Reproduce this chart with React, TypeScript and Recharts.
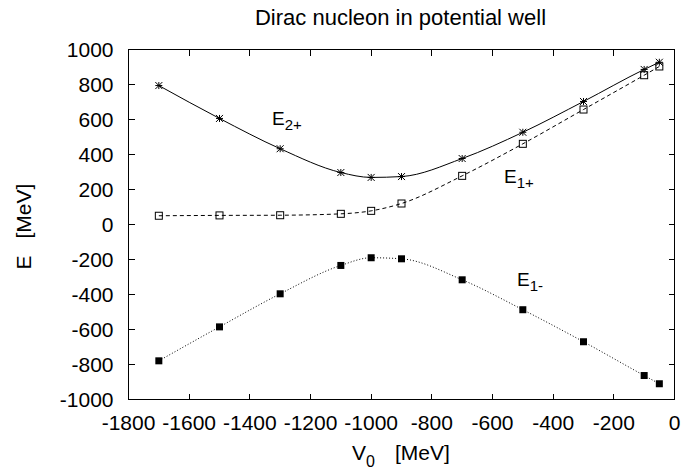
import { LineChart, Line, XAxis, YAxis } from 'recharts'

const V0 = [-1700, -1500, -1300, -1100, -1000, -900, -700, -500, -300, -100, -50]
const E2plus = [794, 606, 433, 297, 269, 274, 377, 527, 703, 886, 927]
const E1plus = [50, 52, 53, 61, 78, 120, 278, 461, 657, 853, 903]
const E1minus = [-779, -585, -396, -234, -190, -196, -316, -487, -670, -863, -910]

const xTicks = [-1800, -1600, -1400, -1200, -1000, -800, -600, -400, -200, 0]
const yTicks = [-1000, -800, -600, -400, -200, 0, 200, 400, 600, 800, 1000]

const data = V0.map((x, i) => ({ x, e2p: E2plus[i], e1p: E1plus[i], e1m: E1minus[i] }))

const FONT = '"Liberation Sans", Arial, Helvetica, sans-serif'
const W = 685
const H = 472
const X_MIN = xTicks[0]
const X_MAX = xTicks[xTicks.length - 1]
const Y_MIN = yTicks[0]
const Y_MAX = yTicks[yTicks.length - 1]

// plot box (half-pixel so the 1px frame is crisp)
const M = { top: 49.5, right: 10.5, bottom: 71.5, left: 0.5 }
const Y_AXIS_W = 128
const X_AXIS_H = 1
const PL = M.left + Y_AXIS_W
const PT = M.top
const PW = W - M.left - M.right - Y_AXIS_W
const PH = H - M.top - M.bottom - X_AXIS_H
const TICK = 6
const px = (v: number) => PL + ((v - X_MIN) / (X_MAX - X_MIN)) * PW
const py = (v: number) => PT + ((Y_MAX - v) / (Y_MAX - Y_MIN)) * PH

const BottomTick = (p: any) => (
    <text x={p.x} y={p.y + 30} textAnchor="middle" fontSize={21} fontFamily={FONT} fill="#000">
        {p.payload.value}
    </text>
)
const LeftTick = (p: any) => (
    <text x={p.x - 15} y={p.y} dy="0.35em" textAnchor="end" fontSize={21} fontFamily={FONT} fill="#000">
        {p.payload.value}
    </text>
)

const Star = (p: any) => {
    const { cx, cy } = p
    const s = 3.5
    return (
        <g key={p.key ?? `s-${p.index}`}>
            <line x1={cx - s} x2={cx + s} y1={cy} y2={cy} stroke="#000" />
            <line x1={cx} x2={cx} y1={cy - s} y2={cy + s} stroke="#000" />
            <line x1={cx - s} x2={cx + s} y1={cy - s} y2={cy + s} stroke="#000" />
            <line x1={cx - s} x2={cx + s} y1={cy + s} y2={cy - s} stroke="#000" />
        </g>
    )
}
const OpenBox = (p: any) => (
    <rect key={p.key ?? `o-${p.index}`} x={p.cx - 3.5} y={p.cy - 3.5} width={7} height={7} fill="none" stroke="#000" />
)
const FilledBox = (p: any) => (
    <rect key={p.key ?? `f-${p.index}`} x={p.cx - 3.5} y={p.cy - 3.5} width={7} height={7} fill="#000" />
)

const SeriesLabel = ({ x, y, sub }: { x: number; y: number; sub: string }) => (
    <text x={x} y={y} fontFamily={FONT} fill="#000">
        <tspan fontSize={19}>E</tspan>
        <tspan fontSize={15} dy={5}>{sub}</tspan>
    </text>
)

const ax = { xAxisId: 'b', yAxisId: 'l' }

export default function App() {
    return (
        <div style={{ position: 'absolute', left: 0, top: 0, width: W, height: H, background: '#fff' }}>
            <LineChart width={W} height={H} data={data} margin={M}>
                <XAxis
                    xAxisId="b"
                    type="number"
                    dataKey="x"
                    domain={[X_MIN, X_MAX]}
                    ticks={xTicks}
                    interval={0}
                    height={X_AXIS_H}
                    tickSize={0}
                    tickMargin={0}
                    tickLine={false}
                    axisLine={false}
                    tick={<BottomTick />}
                />
                <YAxis
                    yAxisId="l"
                    type="number"
                    domain={[Y_MIN, Y_MAX]}
                    ticks={yTicks}
                    interval={0}
                    width={Y_AXIS_W}
                    tickSize={0}
                    tickMargin={0}
                    tickLine={false}
                    axisLine={false}
                    tick={<LeftTick />}
                />
                <Line
                    {...ax}
                    type="monotoneX"
                    dataKey="e2p"
                    stroke="#000"
                    strokeWidth={1}
                    dot={Star}
                    isAnimationActive={false}
                />
                <Line
                    {...ax}
                    type="monotoneX"
                    dataKey="e1p"
                    stroke="#000"
                    strokeWidth={1}
                    strokeDasharray="4 3"
                    dot={OpenBox}
                    isAnimationActive={false}
                />
                <Line
                    {...ax}
                    type="monotoneX"
                    dataKey="e1m"
                    stroke="#000"
                    strokeWidth={1}
                    strokeDasharray="1 2"
                    dot={FilledBox}
                    isAnimationActive={false}
                />
            </LineChart>
            <svg
                width={W}
                height={H}
                style={{ position: 'absolute', left: 0, top: 0, pointerEvents: 'none' }}
            >
                {/* frame with mirrored inward ticks, gnuplot style */}
                <g stroke="#000" strokeWidth={1} fill="none" shapeRendering="crispEdges">
                    <rect x={PL} y={PT} width={PW} height={PH} />
                    {xTicks.map((t) => (
                        <path key={`x${t}`} d={`M${px(t)},${PT}v${TICK}M${px(t)},${PT + PH}v${-TICK}`} />
                    ))}
                    {yTicks.map((t) => (
                        <path key={`y${t}`} d={`M${PL},${py(t)}h${TICK}M${PL + PW},${py(t)}h${-TICK}`} />
                    ))}
                </g>
                <text x={400.5} y={24.5} textAnchor="middle" fontSize={22} fontFamily={FONT} fill="#000">
                    Dirac nucleon in potential well
                </text>
                <text
                    x={31}
                    y={269.5}
                    transform="rotate(-90 31 269.5)"
                    fontSize={21}
                    fontFamily={FONT}
                    fill="#000"
                >
                    E<tspan dx={17}>[MeV]</tspan>
                </text>
                <text x={352} y={460} fontSize={21} fontFamily={FONT} fill="#000">
                    V<tspan fontSize={16} dy={7}>0</tspan>
                    <tspan dy={-7} dx={20}>[MeV]</tspan>
                </text>
                <SeriesLabel x={272} y={125} sub="2+" />
                <SeriesLabel x={504} y={183} sub="1+" />
                <SeriesLabel x={517} y={286} sub="1-" />
            </svg>
        </div>
    )
}
